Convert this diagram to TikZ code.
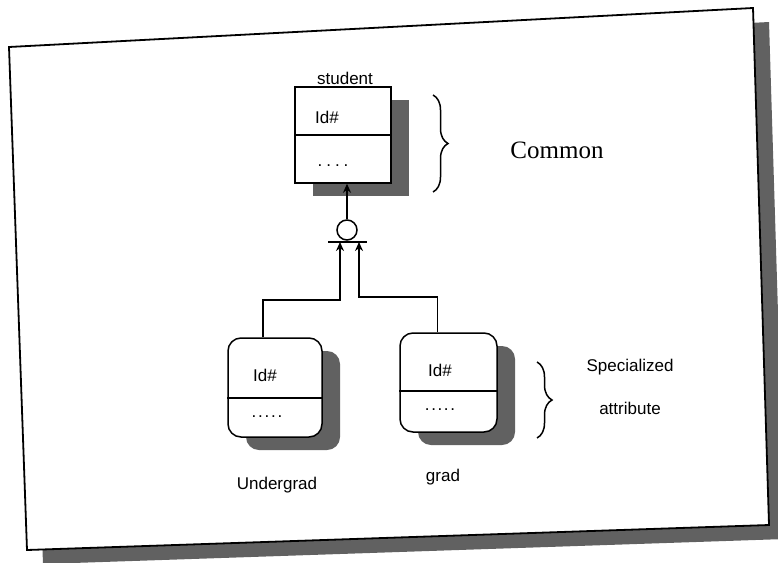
\documentclass[tikz,border=0pt]{standalone}
\usepackage{fontspec}
\setmainfont{Liberation Sans}
\newfontfamily\timesfont{Liberation Serif}
\usepackage{tikz}
\usetikzlibrary{calc}
\usetikzlibrary{arrows.meta, decorations.pathreplacing,
                shadows, positioning}
\definecolor{shade1}{gray}{0.38}
\newcommand{\spaceddots}[2]{\foreach \k in {1,...,#1}{.\ifnum\k<#1\kern#2\fi}}

\begin{document}
\begin{tikzpicture}[x=1pt,y=-1pt,>={Stealth[length=9pt,width=8pt]},
                    line width=1.5pt,font=\fontsize{17}{19}\selectfont]
  \tikzstyle{entity}=[draw,fill=white,minimum width=96pt,minimum height=96pt,
                      drop shadow={shadow xshift=18pt,shadow yshift=-13pt,
                                   fill=shade1,opacity=1}]
  \tikzstyle{subentity}=[entity,rounded corners=13pt,minimum height=99pt]
  \tikzstyle{brc}=[decorate,decoration={brace,amplitude=15pt}]

  \useasboundingbox (0,0) rectangle (778,562);

  % the page frame, a little askew, with its shadow
  \coordinate (f1) at (9,47);
  \coordinate (f2) at (753,8);
  \coordinate (f3) at (769,525);
  \coordinate (f4) at (27,550);
  \fill[shade1] ($(f1)+(16,14)$) -- ($(f2)+(16,14)$)
                -- ($(f3)+(16,14)$) -- ($(f4)+(16,14)$) -- cycle;
  \draw[line width=1.8pt,fill=white] (f1) -- (f2) -- (f3) -- (f4) -- cycle;

  % super type
  \node[entity]        (stud) at (343,135)    {};
  \draw (stud.west) -- (stud.east);
  \node                (studname) at (345,78)  {student};
  \node                (studid) at (327,117)   {Id\#};
  \node                (studdots) at (333,166) {\spaceddots{4}{4pt}};

  % sub types
  \node[subentity,minimum width=94pt] (ug) at (275,387.5) {};
  \draw ($(ug.west)+(0,10.5)$) -- ($(ug.east)+(0,10.5)$);
  \node                (ugid) at (265,375)     {Id\#};
  \node                (ugdots) at (267,417)   {\spaceddots{5}{1.8pt}};
  \node                (ugname) at (277,485)   {Undergrad};

  \node[subentity,minimum width=97pt] (gr) at (448.5,382.5) {};
  \draw ($(gr.west)+(0,8.5)$) -- ($(gr.east)+(0,8.5)$);
  \node                (grid) at (440,370)     {Id\#};
  \node                (grdots) at (440,410)   {\spaceddots{5}{1.6pt}};
  \node                (grname) at (443,477)   {grad};

  % isa junction
  \node[draw,circle,minimum size=20pt,inner sep=0pt] (isa) at (347,230) {};
  \coordinate (barl) at (328,242);
  \coordinate (barr) at (367,242);
  \coordinate (ja) at (340,300);
  \coordinate (jb) at (359,297);
  \draw[->] (isa) -- (isa |- stud.south);
  \draw (barl) -- (barr);
  \draw[->] ($(ug.north)+(-12,0)$) |- (ja) -- (ja |- barl);
  \draw[->] ($(gr.north)+(-11,0)$) |- (jb) -- (jb |- barl);

  % braces and their notes
  \coordinate (cb1) at (433,95);
  \coordinate (cb2) at (433,192);
  \draw[brc] (cb1) -- (cb2);
  \node[font=\timesfont\fontsize{25}{28}\selectfont] (common) at (557,150) {Common};

  \coordinate (sb1) at (537,362);
  \coordinate (sb2) at (537,438);
  \draw[brc] (sb1) -- (sb2);
  \node                (spec) at (630,367)    {Specialized};
  \node                (attr) at (630,408)    {attribute};
\end{tikzpicture}
\end{document}
